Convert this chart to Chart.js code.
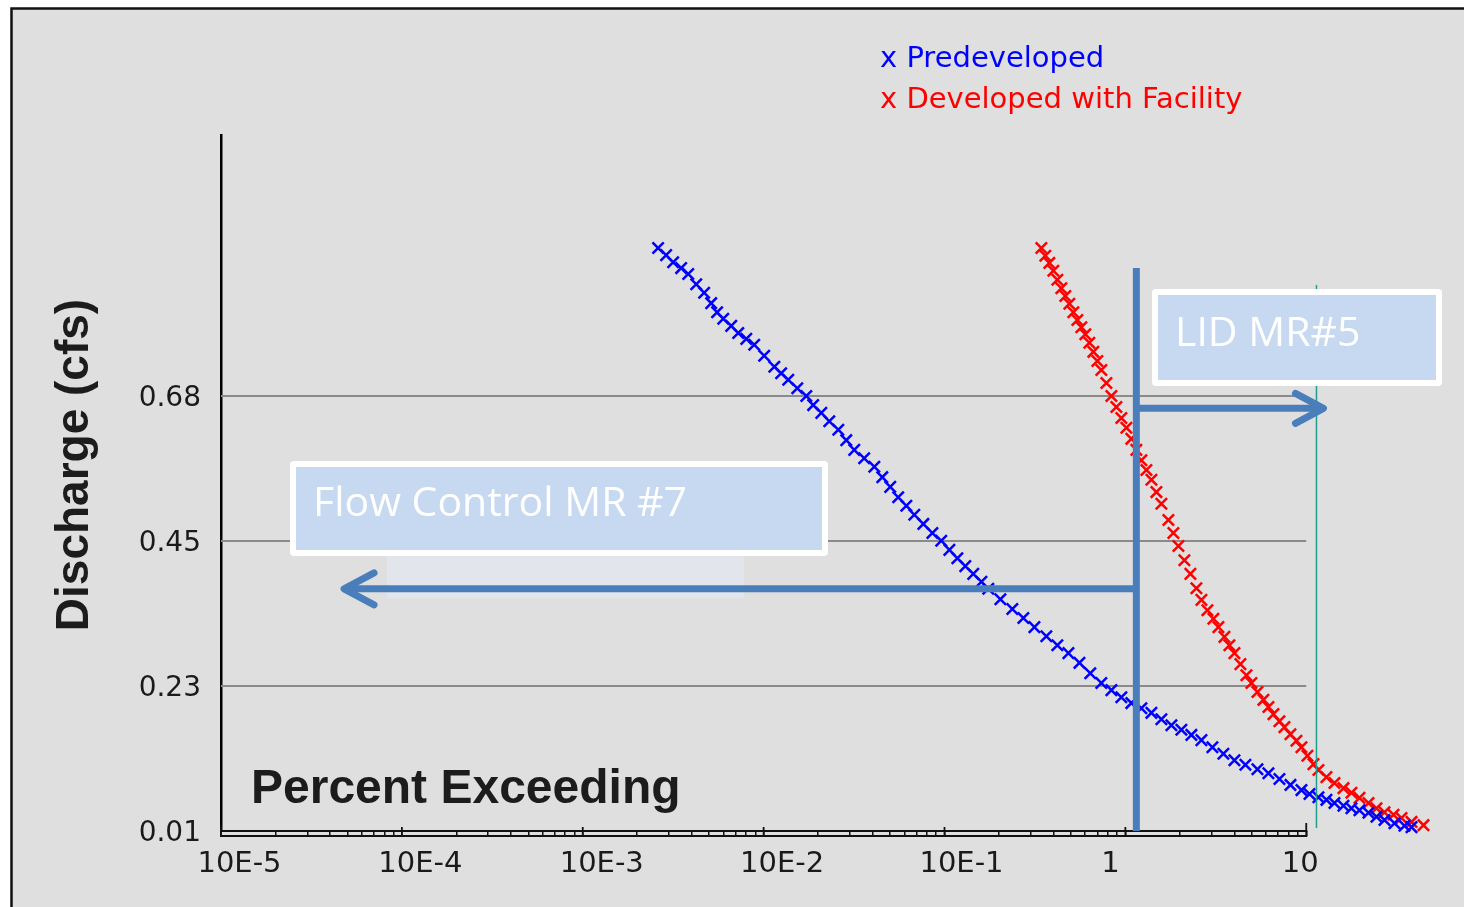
<!DOCTYPE html>
<html><head><meta charset="utf-8">
<script src="https://cdn.jsdelivr.net/npm/chart.js@4"></script>
<style>html,body{margin:0;padding:0;background:#fff;overflow:hidden}#wrap{position:relative;width:1464px;height:907px}</style>
</head><body><div id="wrap"><canvas id="c" width="1464" height="907"></canvas></div>
<script>
// ---- data ----
const seriesNames = ['Predeveloped', 'Developed with Facility'];
const predevX = [0.00261,0.00289,0.00316,0.00350,0.00383,0.00424,0.00469,0.00513,0.00553,0.00598,
0.00662,0.00724,0.00802,0.00887,0.01007,0.01146,0.0125,0.01368,0.01535,0.01722,
0.01879,0.02084,0.02307,0.02588,0.02864,0.0317,0.03597,0.04093,0.04529,0.05012,
0.05546,0.06152,0.06808,0.07638,0.0857,0.09594,0.1064,0.1178,0.1303,0.1442,
0.16,0.1746,0.2037,0.2371,0.2729,0.3141,0.3656,0.4207,0.4842,0.5572,
0.6397,0.7362,0.837,0.950,1.079,1.226,1.393,1.582,1.797,2.040,
2.317,2.633,3.028,3.483,4.008,4.610,5.372,6.179,7.108,8.178,
9.408,10.42,11.68,12.93,14.32,16.06,17.78,19.69,22.08,24.45,
27.07,30.75,34.92,38.19];
const predevY = [0.908,0.897,0.886,0.877,0.868,0.852,0.839,0.823,0.809,0.799,
0.788,0.777,0.768,0.759,0.742,0.725,0.715,0.705,0.692,0.680,
0.666,0.654,0.641,0.628,0.612,0.597,0.584,0.571,0.555,0.540,
0.524,0.511,0.497,0.483,0.469,0.457,0.443,0.430,0.418,0.406,
0.394,0.383,0.367,0.352,0.338,0.324,0.310,0.296,0.284,0.269,
0.253,0.238,0.227,0.216,0.207,0.199,0.192,0.182,0.173,0.166,
0.158,0.150,0.139,0.129,0.119,0.112,0.105,0.099,0.090,0.081,
0.073,0.067,0.062,0.058,0.053,0.049,0.045,0.042,0.038,0.032,
0.027,0.022,0.018,0.016];
const devX = [0.3431,0.361,0.3798,0.3998,0.4207,0.4426,0.4657,0.4901,0.5157,0.5426,
0.571,0.6008,0.6322,0.6653,0.700,0.7362,0.7852,0.837,0.8917,0.950,
1.013,1.079,1.150,1.226,1.307,1.393,1.484,1.582,1.729,1.843,
1.964,2.120,2.288,2.470,2.633,2.841,3.067,3.268,3.528,3.760,
4.008,4.326,4.670,4.977,5.372,5.798,6.179,6.586,7.108,7.574,
8.178,8.827,9.408,10.15,10.96,11.68,12.93,14.32,16.06,17.78,
19.69,22.08,24.45,27.07,30.37,33.62,38.19,44.48];
const devY = [0.908,0.896,0.885,0.873,0.859,0.846,0.834,0.822,0.809,0.797,
0.786,0.775,0.762,0.748,0.734,0.720,0.700,0.680,0.663,0.646,
0.631,0.614,0.597,0.581,0.566,0.551,0.532,0.514,0.489,0.469,
0.449,0.427,0.406,0.384,0.366,0.350,0.337,0.324,0.309,0.296,
0.284,0.267,0.250,0.238,0.224,0.212,0.201,0.190,0.179,0.170,
0.159,0.149,0.139,0.126,0.113,0.104,0.093,0.084,0.076,0.069,
0.061,0.053,0.045,0.039,0.035,0.030,0.024,0.019];
const xTickValues = [1e-5, 1e-4, 1e-3, 1e-2, 1e-1, 1, 10];
const xTickLabels = ['10E-5', '10E-4', '10E-3', '10E-2', '10E-1', '1', '10'];
const yTickValues = [0.01, 0.23333, 0.45667, 0.68];
const yTickLabels = ['0.01', '0.23', '0.45', '0.68'];
const xAxisTitle = 'Percent Exceeding';
const yAxisTitle = 'Discharge (cfs)';
const calloutLeft = 'Flow Control MR #7';
const calloutRight = 'LID MR#5';

// ---- styling / layout ----
const xLabelOffsets = [18.5, 18.5, 19, 18.5, 17, -15, -6];
const annot = { vLineX: 1.15, vTopY: 0.877, rightArrowY: 0.661, rightTipX: 12.45,
                leftArrowY: 0.383, leftTipX: 4.79e-5, tealX: 11.39, tealTop: 0.851, tealBottom: 0.0146 };

const pts = (xs, ys) => xs.map((v, i) => ({ x: v, y: ys[i] }));

function roundRect(c, x, y, w, h, r) {
  c.beginPath();
  c.moveTo(x + r, y); c.lineTo(x + w - r, y); c.quadraticCurveTo(x + w, y, x + w, y + r);
  c.lineTo(x + w, y + h - r); c.quadraticCurveTo(x + w, y + h, x + w - r, y + h);
  c.lineTo(x + r, y + h); c.quadraticCurveTo(x, y + h, x, y + h - r);
  c.lineTo(x, y + r); c.quadraticCurveTo(x, y, x + r, y); c.closePath();
}
function callout(c, x, y, w, h, text, tx, ty) {
  c.fillStyle = '#ffffff'; roundRect(c, x, y, w, h, 4); c.fill();
  c.fillStyle = '#c6d9f1'; c.fillRect(x + 6, y + 6, w - 12, h - 12);
  c.fillStyle = '#ffffff'; c.font = '41px "Open Sans"'; c.textAlign = 'left'; c.textBaseline = 'alphabetic';
  c.fillText(text, tx, ty);
}

const decor = {
  id: 'decor',
  beforeDraw(chart) {
    const c = chart.ctx; c.save();
    c.fillStyle = '#ffffff'; c.fillRect(0, 0, 1464, 907);
    c.fillStyle = '#dfdfdf'; c.fillRect(12, 9, 1452, 898);
    c.strokeStyle = '#111'; c.lineWidth = 2.5;
    c.beginPath(); c.moveTo(11.5, 907); c.lineTo(11.5, 8.5); c.lineTo(1464, 8.5); c.stroke();
    c.restore();
  },
  beforeDatasetsDraw(chart) {
    const { ctx: c, chartArea: a, scales: { x, y } } = chart;
    const xEnd = x.getPixelForValue(10);
    c.save();
    c.strokeStyle = '#8a8a8a'; c.lineWidth = 2;
    yTickValues.slice(1).forEach(v => {
      const py = Math.round(y.getPixelForValue(v));
      c.beginPath(); c.moveTo(a.left, py); c.lineTo(xEnd, py); c.stroke();
    });
    c.strokeStyle = '#111'; c.lineWidth = 1.8;
    [a.bottom, a.bottom + 5].forEach(py => { c.beginPath(); c.moveTo(a.left - 1, py); c.lineTo(xEnd + 1, py); c.stroke(); });
    xTickValues.forEach((v, i) => {
      const px = x.getPixelForValue(v);
      c.beginPath(); c.moveTo(px, a.bottom - (i === xTickValues.length - 1 ? 8 : 4)); c.lineTo(px, a.bottom + 5); c.stroke();
    });
    c.restore();
  },
  afterDatasetsDraw(chart) {
    const { ctx: c, chartArea: a, scales: { x, y } } = chart;
    c.save();
    // teal reference line
    const tx = x.getPixelForValue(annot.tealX);
    c.strokeStyle = '#1f9e8e'; c.lineWidth = 1.5;
    c.beginPath(); c.moveTo(tx, y.getPixelForValue(annot.tealTop)); c.lineTo(tx, y.getPixelForValue(annot.tealBottom)); c.stroke();
    // faint band below left callout
    c.fillStyle = '#e3e5ed'; c.fillRect(387, 556, 357, 42);
    // blue annotation lines/arrows
    const blue = '#4a7ebb';
    const vx = x.getPixelForValue(annot.vLineX);
    c.strokeStyle = blue; c.lineWidth = 7; c.lineCap = 'butt';
    c.beginPath(); c.moveTo(vx, y.getPixelForValue(annot.vTopY)); c.lineTo(vx, a.bottom); c.stroke();
    const ry = y.getPixelForValue(annot.rightArrowY), rTip = x.getPixelForValue(annot.rightTipX);
    c.beginPath(); c.moveTo(vx, ry); c.lineTo(rTip - 4, ry); c.stroke();
    c.lineCap = 'round'; c.lineJoin = 'round';
    c.beginPath(); c.moveTo(rTip - 28, ry - 15); c.lineTo(rTip, ry); c.lineTo(rTip - 28, ry + 15); c.stroke();
    const ly = y.getPixelForValue(annot.leftArrowY), lTip = x.getPixelForValue(annot.leftTipX);
    c.lineCap = 'butt';
    c.beginPath(); c.moveTo(vx, ly); c.lineTo(lTip + 4, ly); c.stroke();
    c.lineCap = 'round';
    c.beginPath(); c.moveTo(lTip + 30, ly - 16); c.lineTo(lTip, ly); c.lineTo(lTip + 30, ly + 16); c.stroke();
    // callout boxes
    callout(c, 290, 461, 538, 95, calloutLeft, 313, 516);
    callout(c, 1152, 289, 290, 97, calloutRight, 1175, 346);
    c.restore();
  },
  afterDraw(chart) {
    const { ctx: c, chartArea: a, scales: { x } } = chart;
    c.save();
    // x tick labels
    c.fillStyle = '#1a1a1a'; c.font = '29px "DejaVu Sans"'; c.textAlign = 'center'; c.textBaseline = 'middle';
    xTickValues.forEach((v, i) => c.fillText(xTickLabels[i], x.getPixelForValue(v) + xLabelOffsets[i], 864));
    // axis titles
    c.fillStyle = '#1c1c1c'; c.font = 'bold 48px "Liberation Sans"'; c.textAlign = 'left'; c.textBaseline = 'alphabetic';
    c.fillText(xAxisTitle, 251, 803);
    c.font = 'bold 46px "Liberation Sans"';
    c.save(); c.translate(88, 465); c.rotate(-Math.PI / 2); c.textAlign = 'center';
    c.fillText(yAxisTitle, 0, 0); c.restore();
    // legend
    c.font = '29px "DejaVu Sans"'; c.textAlign = 'left';
    c.fillStyle = '#0000ff'; c.fillText('x ' + seriesNames[0], 880, 67);
    c.fillStyle = '#ff0000'; c.fillText('x ' + seriesNames[1], 880, 108);
    c.restore();
  }
};

new Chart(document.getElementById('c'), {
  type: 'scatter',
  data: {
    datasets: [
      { label: seriesNames[0], data: pts(predevX, predevY), pointStyle: 'crossRot', pointRadius: 8,
        borderColor: '#0000ff', backgroundColor: '#0000ff', pointBorderWidth: 2.5, clip: false },
      { label: seriesNames[1], data: pts(devX, devY), pointStyle: 'crossRot', pointRadius: 8,
        borderColor: '#ff0000', backgroundColor: '#ff0000', pointBorderWidth: 2.5, clip: false }
    ]
  },
  options: {
    responsive: false, animation: false, events: [],
    layout: { padding: { top: 135, right: 17, left: 0, bottom: 0 } },
    plugins: { legend: { display: false }, tooltip: { enabled: false } },
    scales: {
      x: {
        type: 'logarithmic', min: 1e-5, max: 60, position: 'bottom',
        afterFit(s) { s.height = 76; },
        afterBuildTicks(s) {
          s.ticks = s.ticks.filter(t => {
            const m = t.value / Math.pow(10, Math.floor(Math.log10(t.value) + 1e-9));
            return Math.abs(m - Math.round(m)) < 1e-6 && t.value <= 10.0001;
          });
        },
        ticks: { display: false },
        grid: { display: true, drawOnChartArea: false, drawTicks: true, tickLength: 5, color: '#111', lineWidth: 1.5 },
        border: { display: false }
      },
      y: {
        type: 'linear', min: 0.01, max: 1.082,
        afterFit(s) { s.width = 221; },
        afterBuildTicks(s) { s.ticks = yTickValues.map(v => ({ value: v })); },
        ticks: { callback: (v, i) => yTickLabels[i], font: { family: 'DejaVu Sans', size: 28 }, color: '#1a1a1a', padding: 20, labelOffset: 3 },
        grid: { display: false, drawTicks: false },
        border: { display: true, color: '#000', width: 2.5 }
      }
    }
  },
  plugins: [decor]
});
</script>
</body></html>
